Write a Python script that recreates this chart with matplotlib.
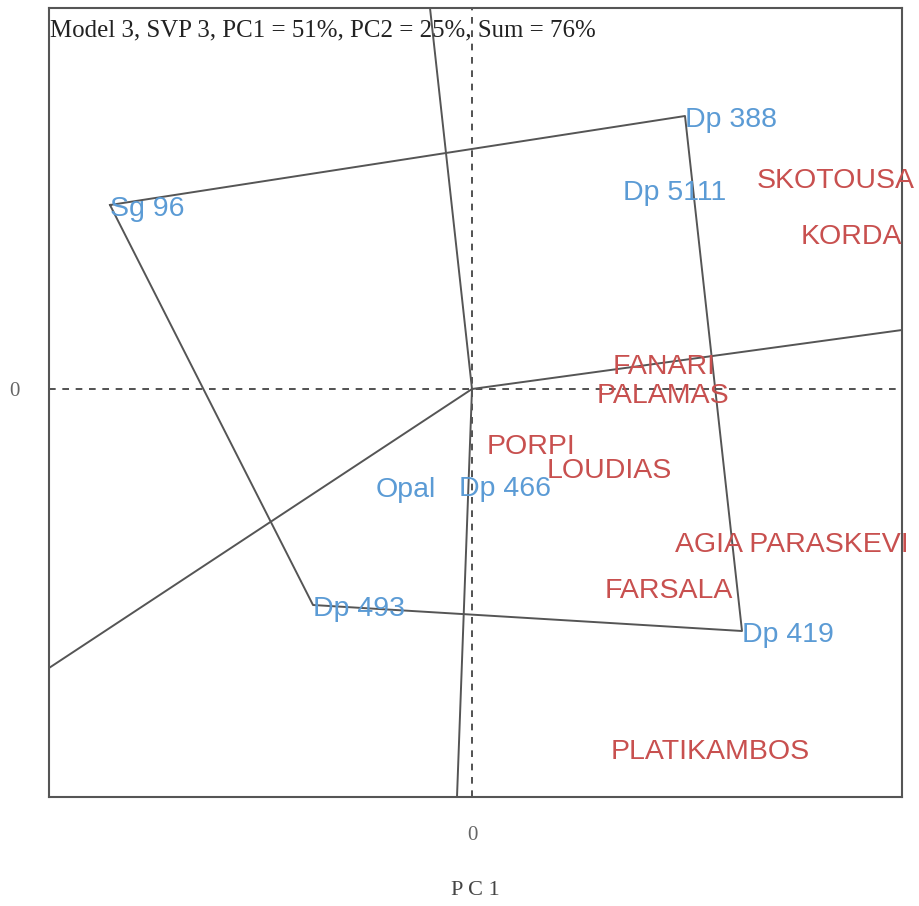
"""GGE biplot (which-won-where polygon) for Model 3, SVP 3."""

import matplotlib
matplotlib.use("Agg")
import matplotlib.pyplot as plt

# Genotype scores (polygon vertices and others)
gen_names = ["Sg 96", "Dp 388", "Dp 5111", "Opal", "Dp 466", "Dp 493", "Dp 419"]
gen_x = [-3.62, 2.13, 1.51, -0.96, -0.13, -1.59, 2.70]
gen_y = [1.84, 2.73, 2.00, -0.97, -0.96, -2.16, -2.42]

# Environment scores
env_names = ["SKOTOUSA", "KORDA", "FANARI", "PALAMAS", "PORPI", "LOUDIAS",
             "AGIA PARASKEVI", "FARSALA", "PLATIKAMBOS"]
env_x = [2.85, 3.29, 1.41, 1.25, 0.15, 0.75, 2.03, 1.33, 1.39]
env_y = [2.12, 1.56, 0.26, -0.03, -0.54, -0.78, -1.52, -1.98, -3.59]

# Polygon order (indices into genotypes)
hull = [0, 1, 6, 5, 0]

# Sector rays from the origin
ray_x = [-0.42, 4.30, -0.15, -4.23]
ray_y = [3.81, 0.59, -4.08, -2.79]

title = "Model 3, SVP 3, PC1 = 51%, PC2 = 25%, Sum = 76%"

blue = "#5b9bd5"
red = "#c8504f"
line_col = "#555555"

fig = plt.figure(figsize=(9.19, 9.06), dpi=100)
ax = fig.add_axes([49 / 919, 109 / 906, 853 / 919, 789 / 906])

ax.set_xlim(-4.23, 4.30)
ax.set_ylim(-4.08, 3.81)

# dashed axes through origin
ax.axhline(0, color="#333333", lw=1.2, ls=(0, (4, 4)))
ax.axvline(0, color="#333333", lw=1.2, ls=(0, (4, 4)))

# polygon
ax.plot([gen_x[i] for i in hull], [gen_y[i] for i in hull], color=line_col, lw=1.4)

# rays
for rx, ry in zip(ray_x, ray_y):
    ax.plot([0, rx], [0, ry], color=line_col, lw=1.4)

for name, x, y in zip(gen_names, gen_x, gen_y):
    ax.annotate(name, (x, y), xytext=(0, -3), textcoords="offset points",
                color=blue, fontsize=20.5, family="Liberation Sans",
                ha="left", va="center")

for name, x, y in zip(env_names, env_x, env_y):
    ax.annotate(name, (x, y), xytext=(0, -3), textcoords="offset points",
                color=red, fontsize=20.5, family="Liberation Sans",
                ha="left", va="center")

ax.text(0.001, 0.985, title, transform=ax.transAxes, ha="left", va="top",
        fontsize=17.9, family="Liberation Serif", color="#222222")

ax.set_xticks([0])
ax.set_yticks([0])
ax.set_xticklabels(["0"])
ax.set_yticklabels(["0"])
ax.tick_params(axis="y", length=0, pad=21, labelsize=15, labelcolor="#666666")
ax.tick_params(axis="x", length=0, pad=21, labelsize=15, labelcolor="#666666")
for lab in ax.get_xticklabels() + ax.get_yticklabels():
    lab.set_family("Liberation Serif")
ax.set_xlabel("P C 1", fontsize=16, family="Liberation Serif", color="#444444",
              labelpad=26)

for s in ax.spines.values():
    s.set_color(line_col)
    s.set_linewidth(1.5)

fig.savefig("out.png", dpi=100)
